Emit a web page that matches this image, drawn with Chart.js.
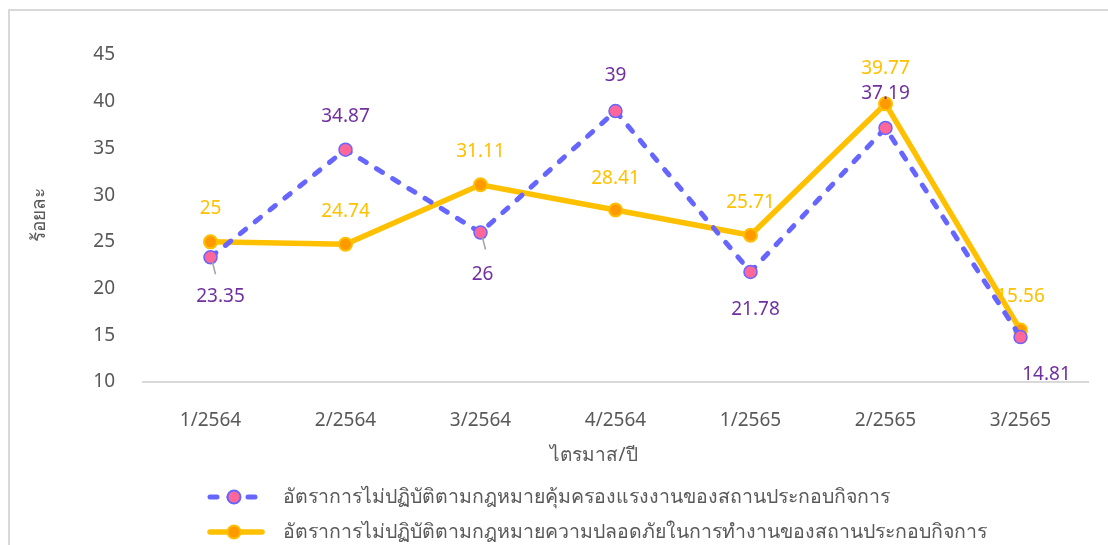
<!DOCTYPE html>
<html>
<head>
<meta charset="utf-8">
<script src="https://cdn.jsdelivr.net/npm/chart.js@4.4.0/dist/chart.umd.min.js"></script>
<style>
  html, body { margin: 0; padding: 0; background: #fff; }
  #wrap { width: 1108px; height: 545px; }
</style>
</head>
<body>
<div id="wrap"><canvas id="qChart" width="1108" height="545"></canvas></div>
<script>
// categories (quarter/year)
var quarters = ['1/2564', '2/2564', '3/2564', '4/2564', '1/2565', '2/2565', '3/2565'];
// series values (percent)
var laborLawRate = [23.35, 34.87, 26, 39, 21.78, 37.19, 14.81];
var safetyLawRate = [25, 24.74, 31.11, 28.41, 25.71, 39.77, 15.56];
var seriesNames = [
    'อัตราการไม่ปฏิบัติตามกฎหมายคุ้มครองแรงงานของสถานประกอบกิจการ',
    'อัตราการไม่ปฏิบัติตามกฎหมายความปลอดภัยในการทำงานของสถานประกอบกิจการ'
];
var yMin = 10, yMax = 45, yStep = 5;
var xTitle = 'ไตรมาส/ปี';
var yTitle = 'ร้อยละ';

var FONT = "'Noto Sans', 'Open Sans', sans-serif";
var GREY = '#595959';

// label offsets in pixels, per point [dx, dy]
var offsA = [[10, 39], [0, -33], [2, 42], [0, -35], [5, 38], [0, -34], [26, 38]];
var offsB = [[0, -33], [0, -33], [0, -33], [0, -31], [0, -33], [0, -35], [0, -33]];
var leaderA = [true, false, true, false, false, false, false];

var extras = {
    id: 'extras',
    beforeDraw: function (chart) {
        var c = chart.ctx;
        c.save();
        c.strokeStyle = '#D9D9D9';
        c.lineWidth = 2;
        c.beginPath();
        c.moveTo(9, 545);
        c.lineTo(9, 10);
        c.lineTo(1108, 10);
        c.stroke();
        c.restore();
    },
    afterDatasetsDraw: function (chart) {
        var c = chart.ctx;
        c.save();
        c.font = '19px ' + FONT;
        c.textAlign = 'center';
        c.textBaseline = 'middle';

        // leader lines
        var mA = chart.getDatasetMeta(0).data;
        c.strokeStyle = '#A6A6A6';
        c.lineWidth = 1.5;
        mA.forEach(function (p, i) {
            if (!leaderA[i]) return;
            c.beginPath();
            c.moveTo(p.x + 2, p.y + 5);
            c.lineTo(p.x + 5, p.y + 17);
            c.stroke();
        });

        var mB = chart.getDatasetMeta(1).data;
        c.fillStyle = '#7030A0';
        mA.forEach(function (p, i) {
            c.fillText(String(laborLawRate[i]), p.x + offsA[i][0], p.y + offsA[i][1]);
        });
        c.fillStyle = '#FFC000';
        mB.forEach(function (p, i) {
            c.fillText(String(safetyLawRate[i]), p.x + offsB[i][0], p.y + offsB[i][1]);
        });

        // axis titles
        c.fillStyle = GREY;
        c.fillText(xTitle, 594, 456);
        c.save();
        c.translate(40, 215);
        c.rotate(-Math.PI / 2);
        c.fillText(yTitle, 0, 0);
        c.restore();

        // legend
        var rows = [
            { y: 497, color: '#6666FF', dash: [7, 12], width: 5, fill: '#FF6699', stroke: '#6666FF' },
            { y: 532, color: '#FFC000', dash: [], width: 5.5, fill: '#FF9900', stroke: '#FFC000' }
        ];
        c.font = '19.5px ' + FONT;
        rows.forEach(function (r, i) {
            c.save();
            c.strokeStyle = r.color;
            c.lineWidth = r.width;
            c.lineCap = 'round';
            c.setLineDash(r.dash);
            c.beginPath();
            c.moveTo(210, r.y);
            c.lineTo(262, r.y);
            c.stroke();
            c.setLineDash([]);
            c.beginPath();
            c.arc(234, r.y, 6.5, 0, Math.PI * 2);
            c.fillStyle = r.fill;
            c.fill();
            c.lineWidth = 2;
            c.strokeStyle = r.stroke;
            c.stroke();
            c.restore();
            c.fillStyle = GREY;
            c.textAlign = 'left';
            c.fillText(seriesNames[i], 283, r.y);
        });
        c.restore();
    }
};

var ctx = document.getElementById('qChart').getContext('2d');
var qChart = new Chart(ctx, {
    type: 'line',
    data: {
        labels: quarters,
        datasets: [{
            label: seriesNames[0],
            data: laborLawRate,
            borderColor: '#6666FF',
            borderWidth: 5,
            borderDash: [7, 12],
            borderCapStyle: 'round',
            pointRadius: 6.5,
            pointBackgroundColor: '#FF6699',
            pointBorderColor: '#6666FF',
            pointBorderWidth: 1.5,
            tension: 0
        }, {
            label: seriesNames[1],
            data: safetyLawRate,
            borderColor: '#FFC000',
            borderWidth: 5.5,
            pointRadius: 6.5,
            pointBackgroundColor: '#FF9900',
            pointBorderColor: '#FFC000',
            pointBorderWidth: 2,
            tension: 0
        }]
    },
    options: {
        responsive: false,
        animation: false,
        layout: { padding: { left: 0, right: 20, top: 55, bottom: 0 } },
        plugins: {
            legend: { display: false },
            tooltip: { enabled: false }
        },
        scales: {
            x: {
                offset: true,
                grid: { display: false, drawTicks: false, offset: true },
                border: { display: true, color: '#D9D9D9', width: 2 },
                ticks: { color: GREY, font: { family: FONT, size: 19 }, padding: 27, maxRotation: 0 },
                afterFit: function (s) { s.height = 163; }
            },
            y: {
                min: yMin,
                max: yMax,
                grid: { display: false, drawTicks: false },
                border: { display: false },
                ticks: { stepSize: yStep, color: GREY, font: { family: FONT, size: 19 }, padding: 28 },
                afterFit: function (s) { s.width = 143; }
            }
        }
    },
    plugins: [extras]
});
</script>
</body>
</html>
